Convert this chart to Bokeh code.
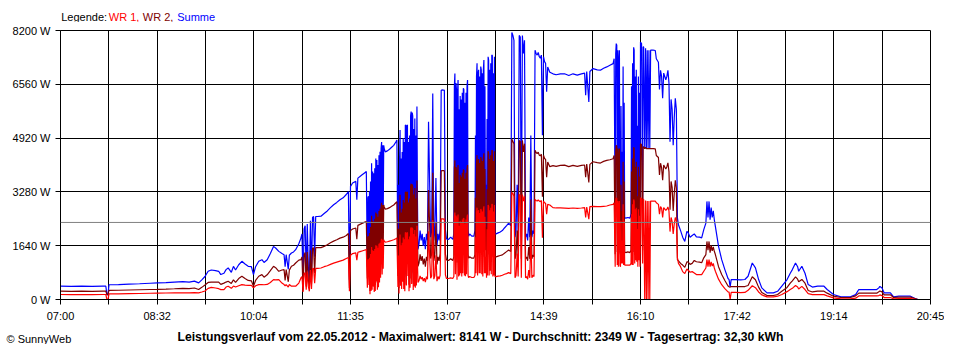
from bokeh.plotting import figure
from bokeh.models import Range1d, FixedTicker, Span
from bokeh.layouts import column
from bokeh.core.properties import value
from bokeh.embed import file_html
from bokeh.resources import INLINE

# ---------------- data ----------------
# minutes after 07:00
t_min = [
    0, 10, 20, 30, 40, 43, 44, 45, 46, 55,
    65, 75, 85, 92, 100, 108, 116, 122, 127, 131,
    134, 137, 140, 143, 147, 150, 152, 155, 157, 159,
    162, 164, 166, 169, 172, 175, 178, 181, 183, 185,
    188, 191, 193, 196, 199, 202, 204, 207, 210, 212,
    213, 214, 216, 217, 219, 221, 223, 226, 228, 229,
    230, 231, 232, 233, 234, 235, 236, 237, 238, 239,
    240, 241, 242, 244, 247, 250, 253, 256, 259, 262,
    265, 268, 271, 273, 274, 275, 277, 280, 281, 282,
    284, 286, 288, 290,
    291, 291.5, 292, 292.5, 293, 293.5, 294, 294.5, 295, 295.5,
    296, 296.5, 297, 297.5, 298, 298.5, 299, 299.5, 300, 300.5,
    301, 301.5, 302, 302.5, 303, 303.5, 304, 304.5, 305, 305.5,
    306, 306.5, 307, 308,
    310, 312, 314, 316, 318, 319,
    320, 320.5, 321, 321.5, 322, 322.5, 323, 323.5, 324, 324.5,
    325, 325.5, 326, 326.5, 327, 327.5, 328, 328.5, 329, 329.5,
    330, 330.5, 331, 331.5, 332, 332.5, 333, 333.5, 334, 334.5,
    335, 335.5, 336, 336.5, 337, 337.5, 338, 338.5, 339,
    340, 341, 342, 343, 344, 345, 346, 347, 348, 349,
    350, 351, 352, 353, 354, 355, 356, 357, 358, 359, 360, 361, 362, 363, 364, 365, 366,
    368, 370, 372,
    373, 373.5, 374, 374.5, 375, 375.5, 376, 376.5, 377, 377.5,
    378, 378.5, 379, 379.5, 380, 380.5, 381, 381.5, 382, 382.5,
    383, 383.5, 384, 384.5, 385, 385.5, 386, 386.5, 387, 388,
    390, 392,
    393, 393.5, 394, 394.5, 395, 395.5, 396, 396.5, 397, 397.5,
    398, 398.5, 399, 399.5, 400, 400.5, 401, 401.5, 402, 402.5,
    403, 403.5, 404, 404.5, 405, 405.5, 406, 406.5, 407, 407.5,
    408, 408.5, 409, 409.5, 410, 410.5, 411, 411.5, 412,
    413, 415, 417, 419, 421, 423, 425, 427, 428, 429, 430, 431, 432, 433, 434, 435, 436, 437, 438, 439,
    440, 441, 442, 443, 444, 445, 446, 447, 448, 449,
    450, 451, 452, 453, 454, 455, 456, 457, 458, 459, 460, 461, 462, 464, 467, 470, 474, 478, 482, 486,
    490, 494, 497, 498, 499, 501, 502, 505, 509, 512, 515, 518, 521, 524, 525,
    526, 526.5, 527, 527.5, 528, 528.5, 529, 529.5, 530, 530.5,
    531, 531.5, 532, 532.5, 533, 533.5, 534, 534.5, 535,
    536, 538, 540,
    541, 541.5, 542, 542.5, 543, 543.5, 544, 544.5, 545, 545.5,
    546, 546.5, 547, 547.5, 548, 548.5, 549, 549.5,
    550, 551, 552, 552.5, 553,
    554, 554.8, 555.6, 556.4, 557.2, 558, 558.8, 559.6,
    562, 564, 565, 567, 568, 569, 570, 571, 572,
    574, 575, 576, 577, 578, 579, 580, 581, 582, 583, 584,
    585, 586, 588, 590, 592, 594, 595, 597, 599, 601,
    603, 606, 608, 610, 612, 613, 614, 615, 616, 617,
    618, 619, 620, 621, 624, 627, 630, 633, 634, 635,
    636, 640, 645, 649, 652, 656, 659, 662, 665, 670,
    676, 680, 684, 689, 692, 694, 697, 699, 700, 703,
    706, 709, 713, 718, 724, 727, 733, 740, 749, 754,
    757, 765, 774, 776, 777, 779, 781, 787, 790, 795,
    806, 810, 813,
]

# Summe (W)
summe = [
    405, 400, 405, 400, 405, 405, 150, 150, 450, 455,
    470, 480, 495, 505, 515, 530, 545, 530, 560, 506,
    600, 700, 860, 900, 880, 860, 760, 800, 911, 961,
    830, 1010, 900, 1060, 1164, 1080, 1012, 1000, 759, 1000,
    1164, 1214, 1130, 1214, 1400, 1619, 1570, 1467, 1400, 1366,
    1000, 1366, 920, 1350, 1417, 1450, 1518, 1700, 1872, 2000,
    500, 2150, 2250, 700, 2300, 1000, 600, 2400, 800, 2500,
    2530, 1300, 2530, 2530, 2540, 2620, 2700, 2800, 2890, 2960,
    3040, 3100, 3200, 3290, 600, 3450, 3550, 3600, 3040, 3700,
    3750, 3800, 3850, 3900,
    1000, 3100, 3150, 1200, 3300, 420, 3600, 700, 4150, 800,
    3900, 1100, 3850, 620, 4000, 700, 4300, 1500, 4250, 800,
    4100, 1000, 4400, 1400, 4500, 1800, 4600, 4800, 2000, 4700,
    2500, 4700, 4600, 4500,
    4530, 4580, 4640, 4700, 4800, 4860,
    1100, 3500, 520, 4200, 5170, 1220, 4300, 900, 4500, 1500,
    4920, 900, 4800, 700, 5320, 5300, 1200, 5300, 5320, 2000,
    4800, 700, 5000, 1000, 5600, 5730, 1300, 5700, 5600, 800,
    5200, 1100, 5520, 1000, 5000, 1200, 5880, 3000, 1530,
    1700, 2100, 1800, 2000, 1630, 1900, 1530, 2000, 1800, 5420,
    3650, 1900, 2100, 6280, 1800, 2100, 3700, 1630, 2000, 1800, 2135, 6380, 6390, 6380, 6380, 2135, 1850,
    1830, 1900, 1830,
    2000, 6500, 6890, 2200, 6600, 6400, 1730, 6300, 6690, 2000,
    5800, 2100, 6200, 2300, 6100, 2000, 6300, 2300, 6440, 6400,
    2100, 6000, 2030, 6300, 2200, 6500, 6690, 2100, 1930, 2000,
    1930, 1930,
    2100, 5000, 2300, 6800, 7200, 2100, 6900, 7000, 2300, 6800,
    2300, 7100, 7000, 2200, 6900, 2000, 7000, 7300, 2300, 6500,
    2300, 3500, 1900, 5500, 2100, 7400, 7300, 2100, 7000, 2500,
    7200, 2200, 7450, 7440, 2000, 6900, 2100, 7400, 2000,
    2000, 2030, 2060, 2100, 2180, 2250, 2330, 2250, 8141, 8050, 7900, 1900, 2100, 3500, 2000, 8050, 8000, 1900, 8050, 7500,
    7900, 1900, 2000, 1800, 2500, 1900, 5000, 1900, 2100, 2000,
    7600, 7500, 7450, 7530, 7400, 7360, 7450, 5010, 7400, 7250, 7200, 6330, 7090, 6930, 6880, 6850, 6880, 6880, 6830, 6880,
    6840, 6880, 6900, 6230, 6950, 6020, 6950, 7040, 7000, 6990, 7050, 7090, 7140, 7190, 7340,
    2380, 7500, 7800, 7750, 2500, 7600, 2380, 7300, 7600, 2500,
    2380, 5900, 2600, 4500, 2600, 7100, 2500, 6000, 2500,
    2480, 2500, 2480,
    2600, 6500, 2500, 7200, 2500, 7690, 7600, 2600, 6800, 2800,
    7000, 2700, 5300, 2300, 6800, 2800, 6300, 2400,
    7850, 7800, 2600, 7700, 7700,
    4600, 7660, 4600, 7600, 4600, 7600, 4600, 7600,
    7600, 7590, 7340, 7230, 6400, 6985, 6800, 6135, 6900,
    6700, 6800, 6985, 6600, 4810, 6100, 5800, 4700, 5530, 6135, 5800,
    2490, 2280, 2100, 1900, 1770, 2075, 2050, 1900, 1950, 2000,
    1910, 1900, 1880, 2130, 2330, 2990, 2500, 2990, 2430, 2800,
    2500, 2700, 2430, 2230, 1620, 1215, 911, 640, 607, 380,
    607, 607, 600, 610, 708, 1114, 962, 607, 354, 203,
    203, 250, 405, 607, 800, 911, 1114, 1000, 860, 1012,
    800, 456, 380, 405, 405, 304, 152, 81, 81, 150,
    304, 300, 304, 354, 400, 354, 203, 203, 81, 101,
    101, 40, 0,
]

# WR 1 (W)
wr1 = [
    152, 150, 152, 150, 152, 152, 0, 0, 172, 173,
    180, 183, 190, 195, 198, 203, 205, 200, 210, 202,
    230, 260, 340, 370, 350, 330, 300, 300, 380, 405,
    340, 410, 380, 420, 455, 440, 430, 430, 354, 420,
    455, 455, 450, 460, 520, 607, 600, 607, 500, 455,
    420, 455, 380, 455, 405, 405, 405, 500, 658, 700,
    230, 790, 820, 300, 850, 400, 250, 900, 320, 940,
    950, 500, 950, 950, 960, 1000, 1030, 1070, 1110, 1140,
    1170, 1200, 1250, 1280, 250, 1350, 1400, 1420, 1200, 1440,
    1460, 1480, 1500, 1520,
    360, 1200, 1220, 440, 1270, 160, 1390, 260, 1600, 300,
    1500, 400, 1480, 230, 1540, 260, 1650, 550, 1640, 300,
    1580, 370, 1700, 520, 1730, 660, 1780, 1850, 760, 1820,
    940, 1820, 1780, 1750,
    1760, 1780, 1800, 1820, 1850, 1880,
    380, 1340, 180, 1610, 1980, 420, 1650, 320, 1730, 540,
    1890, 320, 1840, 250, 2040, 2030, 430, 2030, 2040, 720,
    1840, 250, 1920, 360, 2150, 2200, 470, 2190, 2150, 290,
    2000, 400, 2120, 360, 1920, 430, 2250, 1100, 520,
    580, 720, 620, 680, 560, 650, 530, 700, 620, 2080,
    1350, 650, 720, 2420, 620, 720, 1350, 560, 700, 620, 740, 2460, 2460, 2450, 2460, 750, 640,
    640, 660, 640,
    700, 2510, 2650, 770, 2560, 2480, 600, 2440, 2590, 700,
    2250, 730, 2400, 800, 2360, 700, 2440, 800, 2480, 2470,
    730, 2320, 710, 2440, 770, 2510, 2590, 730, 670, 700,
    670, 670,
    730, 1900, 800, 2640, 2800, 730, 2680, 2720, 800, 2640,
    800, 2760, 2720, 770, 2680, 700, 2720, 2840, 800, 2520,
    800, 1300, 660, 2140, 730, 2880, 2840, 730, 2720, 880,
    2800, 770, 2900, 2900, 700, 2680, 730, 2880, 700,
    700, 710, 720, 740, 770, 790, 820, 790, 3260, 3230, 3150, 660, 730, 1400, 700, 3200, 3180, 660, 3200, 3000,
    3150, 660, 700, 620, 900, 660, 1950, 660, 740, 700,
    3050, 3020, 3000, 3040, 3000, 2980, 3020, 1880, 3000, 2950, 2930, 2600, 2900, 2880, 2800, 2790, 2790, 2785, 2780, 2790,
    2780, 2790, 2800, 2500, 2820, 2450, 2830, 2840, 2830, 2830, 2840, 2850, 2880, 2900, 2950,
    1000, 3000, 3100, 3080, 1050, 3000, 1000, 2900, 3000, 1050,
    1000, 2400, 1100, 1800, 1100, 2900, 1050, 2400, 1050,
    1050, 1050, 1050,
    1100, 2600, 1050, 2900, 1050, 3050, 3000, 1100, 2750, 1200,
    2800, 1150, 2150, 1000, 2750, 1200, 2550, 1000,
    3100, 3080, 1100, 3050, 3050,
    0, 3020, 0, 3000, 0, 3000, 0, 3000,
    3000, 3000, 2950, 2900, 2600, 2830, 2780, 2500, 2800,
    2720, 2750, 2820, 2700, 2070, 2500, 2380, 2000, 2300, 2500, 2400,
    1275, 1100, 1000, 850, 790, 930, 900, 830, 850, 810,
    760, 760, 760, 860, 960, 1220, 1000, 1220, 1000, 1150,
    1020, 1100, 960, 860, 620, 450, 330, 230, 223, 0,
    215, 215, 210, 215, 280, 420, 360, 230, 140, 81,
    81, 100, 152, 240, 304, 340, 425, 380, 320, 400,
    304, 180, 150, 150, 150, 110, 51, 20, 20, 40,
    110, 108, 110, 120, 140, 120, 60, 60, 20, 30,
    30, 10, 0,
]

# WR 2 is the remainder of the sum
wr2 = [s - r for s, r in zip(summe, wr1)]

x_tick_labels = ["07:00", "08:32", "10:04", "11:35", "13:07",
                 "14:39", "16:10", "17:42", "19:14", "20:45"]
y_ticks = [0, 1640, 3280, 4920, 6560, 8200]
average_w = 2349
legend_texts = ["Legende: ", "WR 1,", "WR 2,", "Summe"]
title_text = ("Leistungsverlauf vom 22.05.2012 - Maximalwert: 8141 W - "
              "Durchschnitt: 2349 W - Tagesertrag: 32,30 kWh")
credit_text = "\u00a9 SunnyWeb"

# ---------------- styling ----------------
FONT = "Liberation Sans"
W = 944
C_WR1, C_WR2, C_SUM = "#FF0000", "#800000", "#0000FF"
SPAN_S = 825 * 60          # 07:00 .. 20:45 in seconds
STEP = SPAN_S // 18        # grid every 2750 s
xs = [m * 60 for m in t_min]


def blank(height, y0, y1):
    f = figure(width=W, height=height, output_backend="svg", toolbar_location=None,
               x_range=Range1d(0, W), y_range=Range1d(y1, y0),
               x_axis_type=None, y_axis_type=None, min_border=0)
    f.frame_align = False
    f.grid.visible = False
    f.outline_line_color = None
    f.background_fill_color = "white"
    f.border_fill_color = "white"
    return f


# header with the coloured legend text (pixel coordinates, y downward)
hdr = blank(22, 0, 22)
hdr.text(x=[60.7, 108.3, 142.3, 176.7], y=[16.7] * 4, text=legend_texts,
         text_color=["black", C_WR1, C_WR2, C_SUM],
         text_font=value(FONT), text_font_size=value("11px"),
         text_baseline="middle", text_align="left")

# main chart: frame from x 60..930, y 30..300
p = figure(width=W, height=302, output_backend="svg", toolbar_location=None,
           x_range=Range1d(0, SPAN_S), y_range=Range1d(0, 8200),
           min_border_left=60, min_border_right=14,
           min_border_top=8, min_border_bottom=24)
p.background_fill_color = "white"
p.border_fill_color = "white"
p.outline_line_color = "black"
p.outline_line_width = 1

xt = FixedTicker(ticks=[i * STEP for i in range(19)])
yt = FixedTicker(ticks=y_ticks)
p.xaxis.ticker = xt
p.yaxis.ticker = yt
p.xaxis.major_label_overrides = {i * STEP: (x_tick_labels[i // 2] if i % 2 == 0 else "")
                                 for i in range(19)}
p.yaxis.major_label_overrides = {v: f"{v} W" for v in y_ticks}

for ax in (p.xaxis, p.yaxis):
    ax.axis_line_color = "black"
    ax.major_tick_line_color = "black"
    ax.major_tick_out = 5
    ax.major_tick_in = 0
    ax.minor_tick_line_color = None
    ax.major_label_text_font = FONT
    ax.major_label_text_font_size = "11px"
    ax.major_label_text_color = "black"
    ax.major_label_standoff = 5

p.xgrid.ticker = xt
p.ygrid.ticker = yt
for g in (p.xgrid, p.ygrid):
    g.grid_line_color = "black"
    g.grid_line_alpha = 1.0
    g.grid_line_width = 1

p.line(xs, summe, line_color=C_SUM, line_width=1.2)
p.line(xs, wr2, line_color=C_WR2, line_width=1.2)
p.line(xs, wr1, line_color=C_WR1, line_width=1.2)

p.add_layout(Span(location=average_w, dimension="width",
                  line_color="#808080", line_width=1))

# footer (pixel coordinates of the page, y downward)
ftr = blank(20, 324, 344)
ftr.text(x=[480], y=[336.5], text=[title_text], text_color="black",
         text_font=value(FONT), text_font_size=value("12.2px"), text_font_style="bold",
         text_baseline="middle", text_align="center")
ftr.text(x=[6], y=[338.5], text=[credit_text], text_color="black",
         text_font=value(FONT), text_font_size=value("11px"),
         text_baseline="middle", text_align="left")

layout = column(hdr, p, ftr, spacing=0)
open("out.html", "w").write(file_html(layout, INLINE))
